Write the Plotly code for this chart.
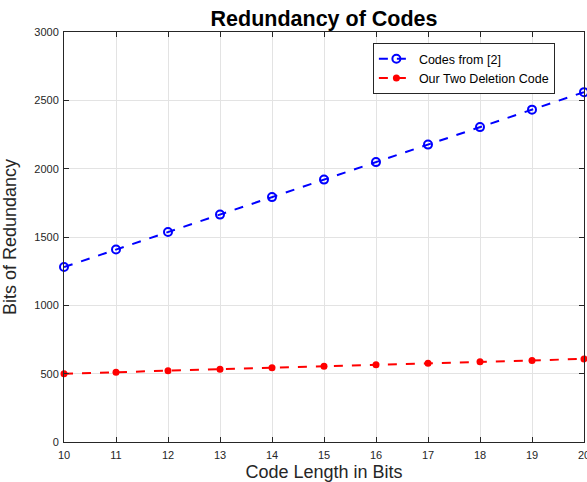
import plotly.graph_objects as go

code_length = [10, 11, 12, 13, 14, 15, 16, 17, 18, 19, 20]
codes_from_2 = [1280, 1408, 1536, 1664, 1792, 1920, 2048, 2176, 2304, 2432, 2560]
our_two_deletion = [500, 511, 522, 533, 544, 555, 566, 576, 587, 597, 608]

x_ticks = [10, 11, 12, 13, 14, 15, 16, 17, 18, 19, 20]
y_ticks = [0, 500, 1000, 1500, 2000, 2500, 3000]

fig = go.Figure()
fig.add_trace(go.Scatter(
    x=code_length, y=codes_from_2, name="Codes from [2]",
    mode="lines+markers", cliponaxis=False,
    line=dict(color="#0000ff", width=2, dash="dash"),
    marker=dict(symbol="circle-open", size=8, color="#0000ff", line=dict(width=2, color="#0000ff")),
))
fig.add_trace(go.Scatter(
    x=code_length, y=our_two_deletion, name="Our Two Deletion Code",
    mode="lines+markers", cliponaxis=False,
    line=dict(color="#ff0000", width=2, dash="dash"),
    marker=dict(symbol="circle", size=7, color="#ff0000"),
))

font_family = "Liberation Sans, Arial, sans-serif"
fig.update_layout(
    width=587, height=482,
    margin=dict(l=64, r=3, t=32, b=40, autoexpand=False),
    paper_bgcolor="white", plot_bgcolor="white",
    font=dict(family=font_family, color="#262626"),
    title=dict(text="<b>Redundancy of Codes</b>", x=0.552, xanchor="center",
               y=0.962, yanchor="middle", font=dict(size=21.5, color="black")),
    showlegend=True,
    legend=dict(x=0.594, y=0.973, xanchor="left", yanchor="top",
                bgcolor="white", bordercolor="#262626", borderwidth=1,
                font=dict(size=12.5, color="black"), tracegroupgap=0,
                itemwidth=35),
    xaxis=dict(range=[10, 20], tickvals=x_ticks, ticks="inside", ticklen=5,
               tickcolor="#262626", showline=True, linecolor="#262626", linewidth=1,
               mirror="ticks", showgrid=True, gridcolor="#e3e3e3", zeroline=False,
               tickfont=dict(size=11), automargin=False, ticklabelstandoff=3,
               ticklabeloverflow="allow",
               title=dict(text="Code Length in Bits", font=dict(size=18), standoff=13)),
    yaxis=dict(range=[0, 3000], tickvals=y_ticks, ticks="inside", ticklen=5,
               tickcolor="#262626", showline=True, linecolor="#262626", linewidth=1,
               mirror="ticks", showgrid=True, gridcolor="#e3e3e3", zeroline=False,
               tickfont=dict(size=11), automargin=False, ticklabelstandoff=2,
               ticklabeloverflow="allow",
               title=dict(text="Bits of Redundancy", font=dict(size=18), standoff=14)),
)

# remove the default page margin so the figure fills the window exactly
fig.write_html("out.html", config={"displayModeBar": False},
               post_script="document.body.style.margin='0';document.body.style.overflow='hidden';")
